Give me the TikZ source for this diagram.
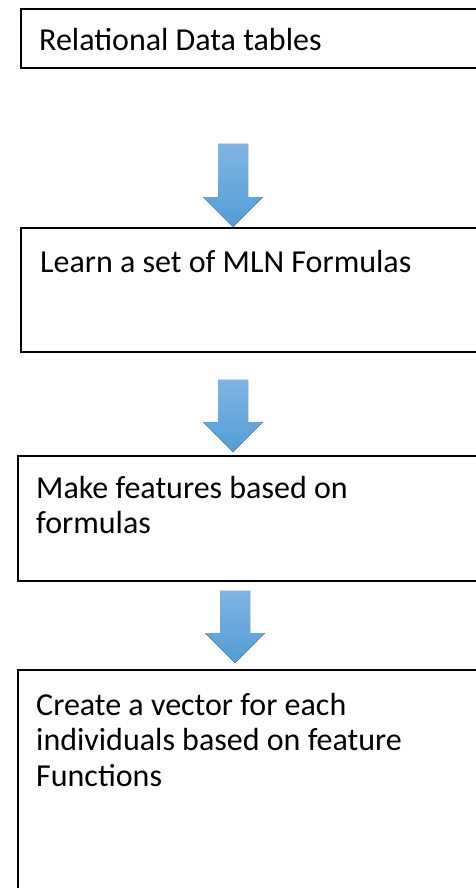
\documentclass[tikz,border=0pt]{standalone}
\usepackage{fontspec}
\setmainfont{Carlito}
\usetikzlibrary{calc}
\begin{document}
\begin{tikzpicture}[x=1pt,y=1pt,
  stepbox/.style={draw=black, line width=1.8pt, fill=white, anchor=north west, inner sep=0pt},
  steptext/.style={anchor=base west, inner sep=0pt, align=left,
    font=\fontsize{32}{35.5}\selectfont},
  flow/.style={top color=arrowtop, bottom color=arrowbot, draw=none}
]
\definecolor{arrowtop}{RGB}{128,180,227}
\definecolor{arrowbot}{RGB}{82,157,214}
\useasboundingbox (0,0) rectangle (476,-888);
\clip (0,0) rectangle (476,-888);

% process boxes (running past the right and bottom edges)
\node[stepbox, minimum width=470, minimum height=59]  (b1) at (20,-8)   {};
\node[stepbox, minimum width=470, minimum height=124] (b2) at (20,-227)  {};
\node[stepbox, minimum width=470, minimum height=125] (b3) at (17,-455)  {};
\node[stepbox, minimum width=470, minimum height=240] (b4) at (17,-669)  {};

% box captions (base anchor sits on the last line, hence the extra drop per line)
\node[steptext] (l1) at ($(b1.north west)+(19,-43)$) {Relational Data tables};
\node[steptext] (l2) at ($(b2.north west)+(20,-45)$) {Learn a set of MLN Formulas};
\node[steptext] (l3) at ($(b3.north west)+(19,-43-35.5)$) {Make features based on\\formulas};
\node[steptext] (l4) at ($(b4.north west)+(19,-46-71)$) {Create a vector for each\\individuals based on feature\\Functions};

% block arrow from shaft top #1 down to tip #2 (shaft 30 wide, head 60 wide, 30 high)
\newcommand{\flowarrow}[2]{%
  \fill[flow] ($(#1)+(-15,0)$) -- ($(#1)+(15,0)$) -- ($(#2)+(15,30)$) -- ($(#2)+(30,30)$)
    -- (#2) -- ($(#2)+(-30,30)$) -- ($(#2)+(-15,30)$) -- cycle;}

\coordinate (s1) at ($(b1.south west)+(213,-75)$);
\coordinate (t1) at ($(b2.north west)+(213,0)$);
\coordinate (s2) at ($(b2.south west)+(213,-27)$);
\coordinate (t2) at ($(b3.north west)+(216,3)$);
\coordinate (s3) at ($(b3.south west)+(218,-9)$);
\coordinate (t3) at ($(b4.north west)+(218,6)$);

\flowarrow{s1}{t1}
\flowarrow{s2}{t2}
\flowarrow{s3}{t3}
\end{tikzpicture}
\end{document}
